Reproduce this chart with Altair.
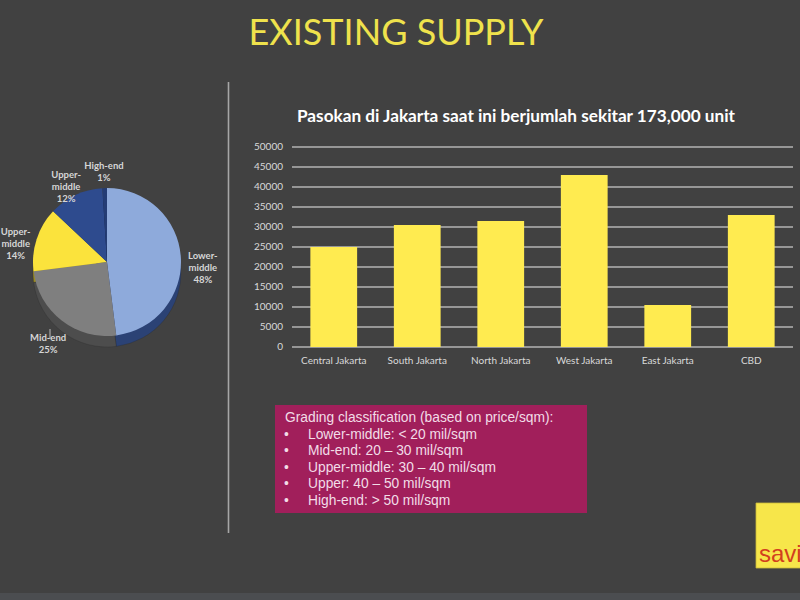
import altair as alt
import pandas as pd

# ---------------- data ----------------
slide_title = "EXISTING SUPPLY"
bar_title = "Pasokan di Jakarta saat ini berjumlah sekitar 173,000 unit"
regions = ["Central Jakarta", "South Jakarta", "North Jakarta", "West Jakarta", "East Jakarta", "CBD"]
supply = [25000, 30500, 31500, 43000, 10500, 33000]
y_ticks = [0, 5000, 10000, 15000, 20000, 25000, 30000, 35000, 40000, 45000, 50000]

pie_labels = ["Lower-\nmiddle", "Mid-end", "Upper-\nmiddle", "Upper-\nmiddle", "High-end"]
pie_shares = [48, 25, 14, 12, 1]
pie_colors = ["#8eaadb", "#7f7f7f", "#fbe33c", "#2e4b8e", "#243c74"]
pie_side_colors = ["#2b4275", "#4d4d4d", "#9c8c22", "#1c2f5a", "#172850"]

box_heading = "Grading classification (based on price/sqm):"
box_items = [
    "Lower-middle: < 20 mil/sqm",
    "Mid-end: 20 \u2013 30 mil/sqm",
    "Upper-middle: 30 \u2013 40 mil/sqm",
    "Upper: 40 \u2013 50 mil/sqm",
    "High-end: > 50 mil/sqm",
]
logo_text = "savills"

BG = "#414141"
FONT = "Lato"

# ---------------- tables ----------------
bars_df = pd.DataFrame({"region": regions, "supply": supply})
ticks_df = pd.DataFrame({"v": y_ticks})
pie_df = pd.DataFrame({
    "idx": list(range(len(pie_shares))),
    "share": pie_shares,
    "label": [f"{l}\n{s}%" for l, s in zip(pie_labels, pie_shares)],
})
items_df = pd.DataFrame({"i": list(range(len(box_items))), "item": box_items, "bullet": ["\u2022"] * len(box_items)})
one = pd.DataFrame({"t": [""]})

x_scale = alt.Scale(domain=regions, range=[292, 793], paddingInner=0.44, paddingOuter=0.22)
y_scale = alt.Scale(domain=[0, 50000], range=[347, 147], nice=False, zero=True)

# ---------------- layers ----------------
bottom_strip = alt.Chart(one).mark_rect(color="#4b4d50").encode(
    x=alt.value(0), x2=alt.value(800), y=alt.value(593), y2=alt.value(600))

title = alt.Chart(pd.DataFrame({"t": [slide_title]})).mark_text(
    font=FONT, fontSize=36, color="#efe24c", align="center", baseline="alphabetic"
).encode(x=alt.value(396), y=alt.value(45), text="t:N")

separator = alt.Chart(one).mark_rule(color="#a6a6a6", strokeWidth=1.6).encode(
    x=alt.value(228.5), y=alt.value(82), y2=alt.value(533))

chart_title = alt.Chart(pd.DataFrame({"t": [bar_title]})).mark_text(
    font=FONT, fontSize=17.2, fontWeight="bold", color="#ffffff", align="center", baseline="middle"
).encode(x=alt.value(516), y=alt.value(117), text="t:N")

grid = alt.Chart(ticks_df).mark_rule(color="#b3b3b3", strokeWidth=1.6).encode(
    y=alt.Y("v:Q", scale=y_scale, axis=None), x=alt.value(292), x2=alt.value(793))

y_labels = alt.Chart(ticks_df).mark_text(
    font=FONT, fontSize=10, color="#d9d9d9", align="right", baseline="middle"
).encode(y=alt.Y("v:Q", scale=y_scale, axis=None), x=alt.value(283), text="v:Q")

bars = alt.Chart(bars_df).mark_bar(color="#ffeb50").encode(
    x=alt.X("region:N", scale=x_scale, axis=None, sort=regions),
    y=alt.Y("supply:Q", scale=y_scale, axis=None))

x_labels = alt.Chart(bars_df).mark_text(
    font=FONT, fontSize=10, color="#d9d9d9", align="center", baseline="middle"
).encode(x=alt.X("region:N", scale=x_scale, axis=None, sort=regions), y=alt.value(361), text="region:N")

pie_cx, pie_cy, pie_r = 107, 262, 74

pie_side = alt.Chart(pie_df).mark_arc(radius=pie_r, stroke="#2a2a2a", strokeWidth=0.3).encode(
    theta=alt.Theta("share:Q", stack=True),
    color=alt.Color("idx:O", scale=alt.Scale(domain=list(range(5)), range=pie_side_colors), legend=None),
    order=alt.Order("idx:Q"),
    x=alt.value(pie_cx), y=alt.value(pie_cy + 11))

pie = alt.Chart(pie_df).mark_arc(radius=pie_r).encode(
    theta=alt.Theta("share:Q", stack=True),
    color=alt.Color("idx:O", scale=alt.Scale(domain=list(range(5)), range=pie_colors), legend=None),
    order=alt.Order("idx:Q"),
    x=alt.value(pie_cx), y=alt.value(pie_cy))

pie_text = alt.Chart(pie_df).mark_text(
    radius=96, font=FONT, fontSize=9.5, fontWeight="bold", color="#d6d6d6",
    lineBreak="\n", lineHeight=12, align="center", baseline="middle"
).encode(
    theta=alt.Theta("share:Q", stack=True),
    order=alt.Order("idx:Q"),
    text="label:N",
    x=alt.value(pie_cx), y=alt.value(pie_cy))

leader = alt.Chart(one).mark_rule(color="#bdbdbd", strokeWidth=1).encode(
    x=alt.value(50), y=alt.value(329), y2=alt.value(339))

box = alt.Chart(one).mark_rect(color="#a11f5b").encode(
    x=alt.value(275), x2=alt.value(587), y=alt.value(405), y2=alt.value(513))

box_head = alt.Chart(pd.DataFrame({"t": [box_heading]})).mark_text(
    font="Liberation Sans", fontSize=13.8, color="#f2dce7", align="left", baseline="middle"
).encode(x=alt.value(285), y=alt.value(418), text="t:N")

item_y = alt.Scale(domain=[0, len(box_items) - 1], range=[434.5, 501])
box_bullets = alt.Chart(items_df).mark_text(
    font="Liberation Sans", fontSize=13.8, color="#f2dce7", align="left", baseline="middle"
).encode(x=alt.value(284), y=alt.Y("i:Q", scale=item_y, axis=None), text="bullet:N")

box_lines = alt.Chart(items_df).mark_text(
    font="Liberation Sans", fontSize=13.8, color="#f2dce7", align="left", baseline="middle"
).encode(x=alt.value(308), y=alt.Y("i:Q", scale=item_y, axis=None), text="item:N")

logo_box = alt.Chart(one).mark_rect(color="#f7e64a", stroke="#c9b93a", strokeWidth=0.8).encode(
    x=alt.value(756), x2=alt.value(805), y=alt.value(503), y2=alt.value(568))

logo = alt.Chart(pd.DataFrame({"t": [logo_text]})).mark_text(
    font="Liberation Sans", fontSize=24, color="#d2401e", align="left", baseline="alphabetic"
).encode(x=alt.value(759), y=alt.value(562), text="t:N")

chart = alt.layer(
    bottom_strip, title, separator, chart_title, grid, y_labels, bars, x_labels,
    pie_side, pie, pie_text, leader, box, box_head, box_bullets, box_lines, logo_box, logo
).resolve_scale(
    x="independent", y="independent", theta="independent", color="independent"
).properties(
    width=800, height=600, padding=0, autosize="none", background=BG
).configure_view(stroke=None)

chart.save("out.html", embed_options={"renderer": "svg", "actions": False})
